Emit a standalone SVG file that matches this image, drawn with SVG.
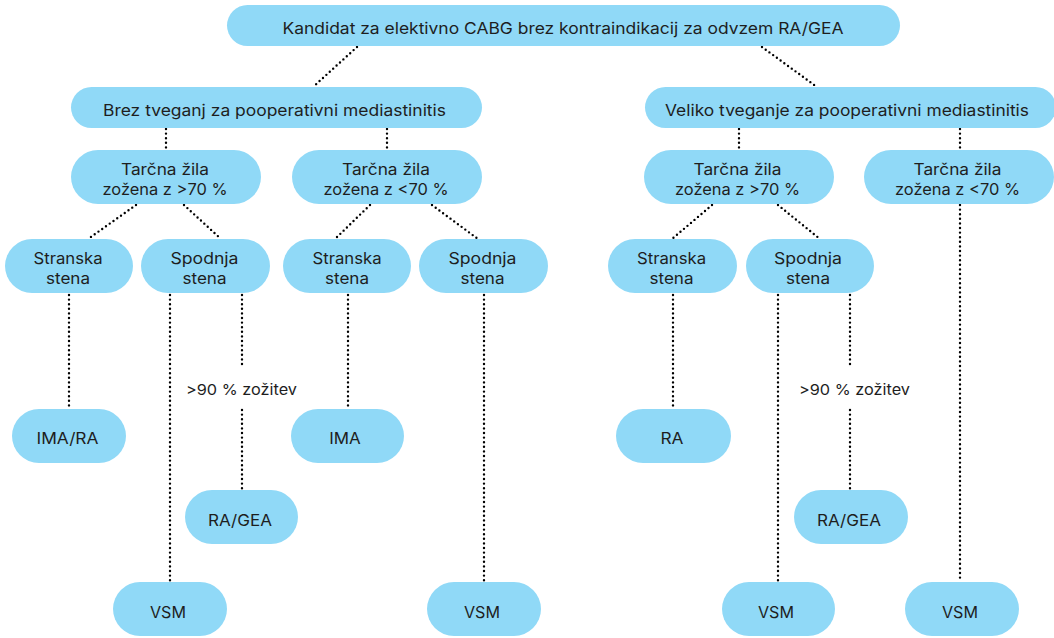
<svg xmlns="http://www.w3.org/2000/svg" width="1054" height="638" viewBox="0 0 1054 638">
<style>
.n{fill:#90D9F7;}
.t{font-family:Inter,"Noto Sans",sans-serif;font-size:16px;fill:#1e1e1e;text-anchor:middle;}
.l{font-family:Inter,"Noto Sans",sans-serif;font-size:15px;fill:#1e1e1e;text-anchor:middle;}
.c{stroke:#000;stroke-width:2.4;stroke-linecap:round;stroke-dasharray:0 4.6;fill:none;}
</style>
<rect width="1054" height="638" fill="#fff"/>
<g id="connectors">
<line class="c" x1="357" y1="47" x2="313" y2="87"/>
<line class="c" x1="762" y1="47" x2="817" y2="87"/>
<line class="c" x1="166" y1="129" x2="166" y2="150"/>
<line class="c" x1="387" y1="129" x2="387" y2="150"/>
<line class="c" x1="739" y1="129" x2="739" y2="150"/>
<line class="c" x1="960" y1="129" x2="960" y2="150"/>
<line class="c" x1="136" y1="205" x2="88" y2="239"/>
<line class="c" x1="184" y1="205" x2="221" y2="239"/>
<line class="c" x1="370" y1="205" x2="335" y2="239"/>
<line class="c" x1="432" y1="205" x2="478" y2="239"/>
<line class="c" x1="712" y1="205" x2="672" y2="239"/>
<line class="c" x1="778" y1="205" x2="820" y2="239"/>
<line class="c" x1="960" y1="205" x2="960" y2="580"/>
<line class="c" x1="69" y1="295" x2="69" y2="408"/>
<line class="c" x1="170" y1="295" x2="170" y2="581"/>
<line class="c" x1="242" y1="295" x2="242" y2="365"/>
<line class="c" x1="242" y1="410" x2="242" y2="489"/>
<line class="c" x1="348" y1="295" x2="348" y2="408"/>
<line class="c" x1="484" y1="295" x2="484" y2="581"/>
<line class="c" x1="673" y1="295" x2="673" y2="408"/>
<line class="c" x1="778" y1="295" x2="778" y2="581"/>
<line class="c" x1="850" y1="295" x2="850" y2="365"/>
<line class="c" x1="850" y1="410" x2="850" y2="489"/>
<text class="l" x="241.5" y="395" textLength="111" lengthAdjust="spacingAndGlyphs">&gt;90 % zožitev</text>
<text class="l" x="854.5" y="395" textLength="111" lengthAdjust="spacingAndGlyphs">&gt;90 % zožitev</text>
</g>
<g id="root"><rect class="n" x="227" y="5" width="673" height="41" rx="20.5"/><text class="t" x="563" y="34" textLength="561" lengthAdjust="spacingAndGlyphs">Kandidat za elektivno CABG brez kontraindikacij za odvzem RA/GEA</text></g>
<g id="brez"><rect class="n" x="71" y="87" width="411" height="41" rx="20.5"/><text class="t" x="274.5" y="116" textLength="343" lengthAdjust="spacingAndGlyphs">Brez tveganj za pooperativni mediastinitis</text></g>
<g id="veliko"><rect class="n" x="645" y="87" width="411" height="41" rx="20.5"/><text class="t" x="847" y="116" textLength="364" lengthAdjust="spacingAndGlyphs">Veliko tveganje za pooperativni mediastinitis</text></g>
<g id="l_gt70"><rect class="n" x="71" y="150" width="190" height="54" rx="27"/><text class="t" x="165" y="175" textLength="88" lengthAdjust="spacingAndGlyphs">Tarčna žila</text><text class="t" x="165" y="194.5" textLength="125" lengthAdjust="spacingAndGlyphs">zožena z &gt;70 %</text></g>
<g id="l_lt70"><rect class="n" x="292" y="150" width="190" height="54" rx="27"/><text class="t" x="386" y="175" textLength="88" lengthAdjust="spacingAndGlyphs">Tarčna žila</text><text class="t" x="386" y="194.5" textLength="125" lengthAdjust="spacingAndGlyphs">zožena z &lt;70 %</text></g>
<g id="r_gt70"><rect class="n" x="644" y="150" width="190" height="54" rx="27"/><text class="t" x="737.5" y="175" textLength="88" lengthAdjust="spacingAndGlyphs">Tarčna žila</text><text class="t" x="737.5" y="194.5" textLength="125" lengthAdjust="spacingAndGlyphs">zožena z &gt;70 %</text></g>
<g id="r_lt70"><rect class="n" x="864" y="150" width="190" height="54" rx="27"/><text class="t" x="957.5" y="175" textLength="88" lengthAdjust="spacingAndGlyphs">Tarčna žila</text><text class="t" x="957.5" y="194.5" textLength="125" lengthAdjust="spacingAndGlyphs">zožena z &lt;70 %</text></g>
<g id="l_str1"><rect class="n" x="5" y="239" width="128" height="54" rx="27"/><text class="t" x="68" y="264" textLength="69" lengthAdjust="spacingAndGlyphs">Stranska</text><text class="t" x="68" y="284" textLength="44" lengthAdjust="spacingAndGlyphs">stena</text></g>
<g id="l_spo1"><rect class="n" x="141" y="239" width="129" height="54" rx="27"/><text class="t" x="204.5" y="264" textLength="68" lengthAdjust="spacingAndGlyphs">Spodnja</text><text class="t" x="204.5" y="284" textLength="44" lengthAdjust="spacingAndGlyphs">stena</text></g>
<g id="l_str2"><rect class="n" x="283" y="239" width="128" height="54" rx="27"/><text class="t" x="347" y="264" textLength="69" lengthAdjust="spacingAndGlyphs">Stranska</text><text class="t" x="347" y="284" textLength="44" lengthAdjust="spacingAndGlyphs">stena</text></g>
<g id="l_spo2"><rect class="n" x="419" y="239" width="129" height="54" rx="27"/><text class="t" x="482.5" y="264" textLength="68" lengthAdjust="spacingAndGlyphs">Spodnja</text><text class="t" x="482.5" y="284" textLength="44" lengthAdjust="spacingAndGlyphs">stena</text></g>
<g id="r_str"><rect class="n" x="608" y="239" width="129" height="54" rx="27"/><text class="t" x="671.5" y="264" textLength="69" lengthAdjust="spacingAndGlyphs">Stranska</text><text class="t" x="671.5" y="284" textLength="44" lengthAdjust="spacingAndGlyphs">stena</text></g>
<g id="r_spo"><rect class="n" x="746" y="239" width="128" height="54" rx="27"/><text class="t" x="808" y="264" textLength="68" lengthAdjust="spacingAndGlyphs">Spodnja</text><text class="t" x="808" y="284" textLength="44" lengthAdjust="spacingAndGlyphs">stena</text></g>
<g id="imara"><rect class="n" x="12" y="409" width="114" height="54" rx="27"/><text class="t" x="67.5" y="444" textLength="62" lengthAdjust="spacingAndGlyphs">IMA/RA</text></g>
<g id="ima"><rect class="n" x="291" y="409" width="113" height="54" rx="27"/><text class="t" x="345" y="444" textLength="31.5" lengthAdjust="spacingAndGlyphs">IMA</text></g>
<g id="ra"><rect class="n" x="616" y="409" width="115" height="54" rx="27"/><text class="t" x="672" y="444" textLength="23" lengthAdjust="spacingAndGlyphs">RA</text></g>
<g id="ragea1"><rect class="n" x="185" y="490" width="113" height="54" rx="27"/><text class="t" x="240" y="526" textLength="64" lengthAdjust="spacingAndGlyphs">RA/GEA</text></g>
<g id="ragea2"><rect class="n" x="794" y="490" width="114" height="54" rx="27"/><text class="t" x="849" y="526" textLength="64" lengthAdjust="spacingAndGlyphs">RA/GEA</text></g>
<g id="vsm1"><rect class="n" x="113" y="582" width="114" height="54" rx="27"/><text class="t" x="168" y="618" textLength="36" lengthAdjust="spacingAndGlyphs">VSM</text></g>
<g id="vsm2"><rect class="n" x="427" y="582" width="114" height="54" rx="27"/><text class="t" x="482" y="618" textLength="36" lengthAdjust="spacingAndGlyphs">VSM</text></g>
<g id="vsm3"><rect class="n" x="722" y="582" width="113" height="54" rx="27"/><text class="t" x="776" y="618" textLength="36" lengthAdjust="spacingAndGlyphs">VSM</text></g>
<g id="vsm4"><rect class="n" x="905" y="582" width="114" height="54" rx="27"/><text class="t" x="960" y="618" textLength="36" lengthAdjust="spacingAndGlyphs">VSM</text></g>
</svg>
